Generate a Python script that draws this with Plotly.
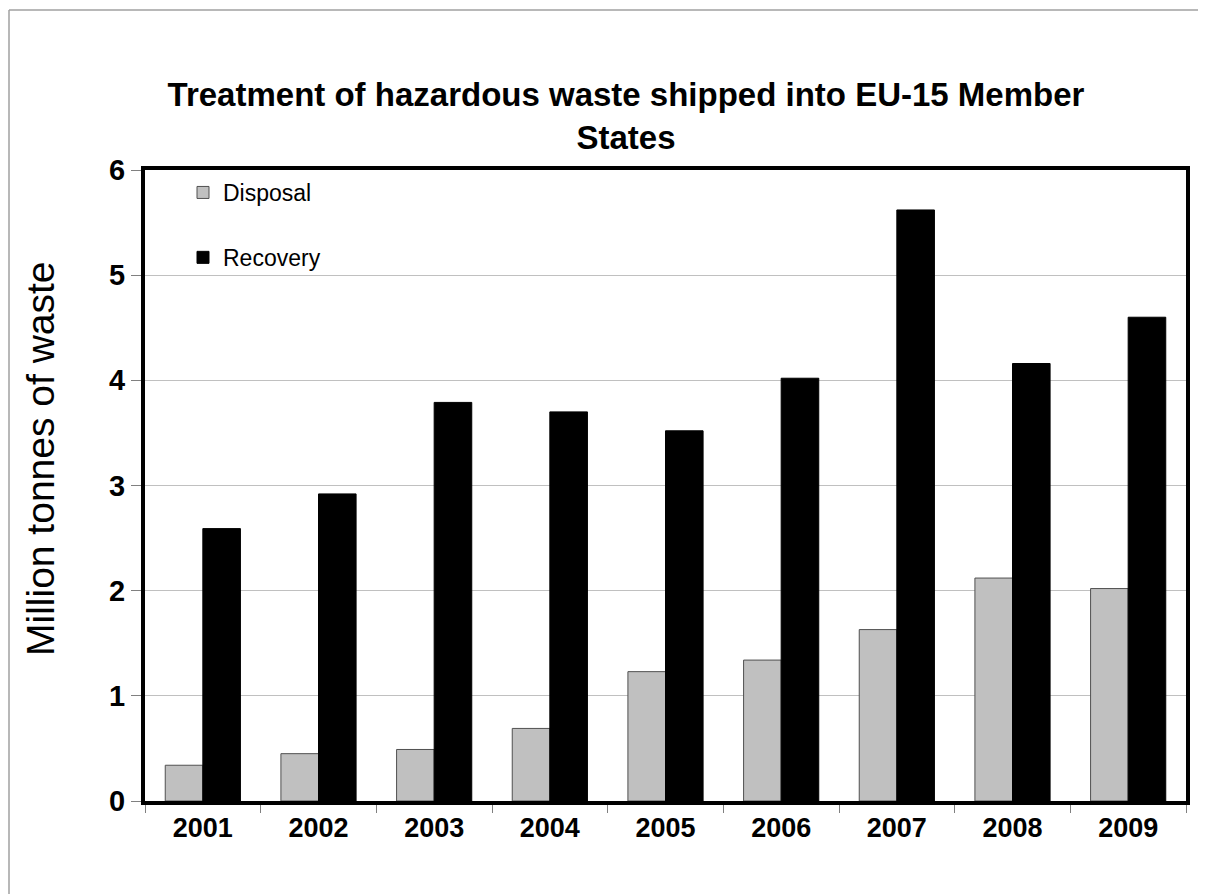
import plotly.graph_objects as go

years = ["2001", "2002", "2003", "2004", "2005", "2006", "2007", "2008", "2009"]
disposal = [0.34, 0.45, 0.49, 0.69, 1.23, 1.34, 1.63, 2.12, 2.02]
recovery = [2.59, 2.92, 3.79, 3.70, 3.52, 4.02, 5.62, 4.16, 4.60]
y_ticks = [0, 1, 2, 3, 4, 5, 6]

OFF = 8  # default page body margin
W, H = 1206 - OFF, 894 - OFF
# plot area in reference-screen pixels
L, R, T, B = 145, 1186, 170, 801


def px(x):
    return (x - L) / (R - L)


def py(y):
    return (B - y) / (B - T)


fig = go.Figure()
fig.add_trace(go.Bar(x=years, y=disposal, name="Disposal", legendgroup="d",
                     marker=dict(color="#c0c0c0", line=dict(color="#505050", width=1))))
fig.add_trace(go.Bar(x=years, y=recovery, name="Recovery", legendgroup="r",
                     marker=dict(color="#000000", line=dict(color="#000000", width=1))))

fig.update_layout(
    width=W, height=H,
    margin=dict(l=L - OFF, r=(1206 - R), t=T - OFF, b=(894 - B)),
    paper_bgcolor="white", plot_bgcolor="white",
    font=dict(family="Arial, Liberation Sans, sans-serif", color="black"),
    barmode="group", bargap=0.35, bargroupgap=0,
    title=dict(text="Treatment of hazardous waste shipped into EU-15 Member<br>States",
               x=(626 - OFF) / W, xanchor="center", xref="container",
               y=1 - (106 - OFF) / H, yanchor="middle", yref="container",
               font=dict(size=33, color="black", weight="bold")),
    legend=dict(x=px(183), y=py(171), xanchor="left", yanchor="top",
                font=dict(size=23), tracegroupgap=32, bgcolor="rgba(0,0,0,0)",
                itemwidth=30),
    xaxis=dict(type="category", tickson="boundaries", ticks="outside", ticklen=8,
               tickcolor="#808080", tickfont=dict(size=27, weight="bold"),
               showline=True, linecolor="black", linewidth=4, mirror=True,
               showgrid=False),
    yaxis=dict(range=[0, 6], tickvals=y_ticks, ticks="outside", ticklen=10,
               tickcolor="#808080", tickfont=dict(size=29, weight="bold"),
               showline=True, linecolor="black", linewidth=4, mirror=True,
               showgrid=True, gridcolor="#c0c0c0", gridwidth=1, zeroline=False),
    annotations=[dict(text="Million tonnes of waste", textangle=-90,
                      xref="paper", yref="paper", x=px(40), y=py(459),
                      xanchor="center", yanchor="middle", showarrow=False,
                      font=dict(size=39, color="black"))],
)

# page border lines (top and left)
fig.add_shape(type="line", xref="paper", yref="paper",
              x0=px(9), x1=px(1210), y0=py(10), y1=py(10),
              line=dict(color="#a0a0a0", width=1.5))
fig.add_shape(type="line", xref="paper", yref="paper",
              x0=px(9), x1=px(9), y0=py(10), y1=py(900),
              line=dict(color="#a0a0a0", width=1.5))

fig.write_html("out.html")
